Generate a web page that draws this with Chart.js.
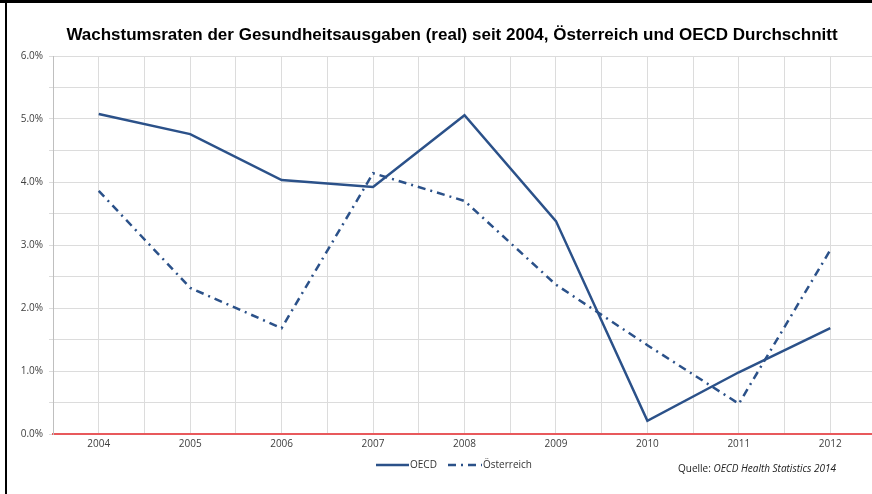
<!DOCTYPE html>
<html>
<head>
<meta charset="utf-8">
<script src="https://cdn.jsdelivr.net/npm/chart.js@4"></script>
<style>
  html, body { margin: 0; padding: 0; background: #fff; overflow: hidden; }
  #wrap { position: relative; width: 872px; height: 494px; overflow: hidden; }
  #chart { position: absolute; left: 0; top: 0; }
  #top { position: absolute; left: 0; top: 0; width: 872px; height: 3px; background: #000; }
  #left { position: absolute; left: 5px; top: 0; width: 2px; height: 494px; background: #000; }
  #title { position: absolute; left: 0; top: 25px; width: 904px; text-align: center;
           font: bold 17px "Liberation Sans", Arial, sans-serif; color: #000; }
  #quelle { position: absolute; left: 678px; top: 461px;
            font: 10px "Open Sans", sans-serif; color: #222; }
</style>
</head>
<body>
<div id="wrap">
  <canvas id="chart" width="880" height="494"></canvas>
  <div id="top"></div>
  <div id="left"></div>
  <div id="title">Wachstumsraten der Gesundheitsausgaben (real) seit 2004, Österreich und OECD Durchschnitt</div>
  <div id="quelle">Quelle: <i>OECD Health Statistics 2014</i></div>
</div>
<script>
const jahre = [2004, 2005, 2006, 2007, 2008, 2009, 2010, 2011, 2012];
const oecd = [5.08, 4.76, 4.03, 3.92, 5.06, 3.38, 0.21, 0.98, 1.68];
const oesterreich = [3.86, 2.32, 1.68, 4.14, 3.70, 2.37, 1.41, 0.48, 2.92];

const blau = '#2b5189';
const tickFont = { family: 'Open Sans', size: 10 };

// Legende unter der Grafik, mit den Linienstilen der Datenreihen
const legende = {
  id: 'legende',
  afterDraw(chart) {
    const ctx = chart.ctx;
    const pos = [[376, 409], [448, 482]];
    chart.data.datasets.forEach((ds, i) => {
      const [x0, x1] = pos[i];
      ctx.save();
      ctx.strokeStyle = ds.borderColor;
      ctx.lineWidth = ds.borderWidth;
      ctx.setLineDash(ds.borderDash || []);
      ctx.beginPath();
      ctx.moveTo(x0, 465);
      ctx.lineTo(x1, 465);
      ctx.stroke();
      ctx.setLineDash([]);
      ctx.fillStyle = '#333';
      ctx.font = '10px "Open Sans"';
      ctx.textBaseline = 'middle';
      ctx.fillText(ds.label, x1 + 1, 465);
      ctx.restore();
    });
  }
};

new Chart(document.getElementById('chart'), {
  type: 'line',
  data: {
    datasets: [{
      label: 'OECD',
      data: jahre.map((j, i) => ({ x: j, y: oecd[i] })),
      borderColor: blau,
      borderWidth: 2.5,
      pointRadius: 0,
      tension: 0
    }, {
      label: 'Österreich',
      data: jahre.map((j, i) => ({ x: j, y: oesterreich[i] })),
      borderColor: blau,
      borderWidth: 2.5,
      borderDash: [8, 5, 2, 5],
      pointRadius: 0,
      tension: 0
    }]
  },
  options: {
    responsive: false,
    animation: false,
    layout: { padding: { left: 0, top: 56, right: 3, bottom: 0 } },
    plugins: {
      legend: { display: false },
      title: { display: false },
      tooltip: { enabled: false }
    },
    scales: {
      x: {
        type: 'linear',
        min: 2003.5,
        max: 2012.5,
        afterFit: s => { s.height = 60; },
        afterBuildTicks: s => {
          const t = [];
          for (let v = 2003.5; v <= 2012.5001; v += 0.5) t.push({ value: v });
          s.ticks = t;
        },
        ticks: {
          autoSkip: false,
          maxRotation: 0,
          padding: 4,
          color: '#404040',
          font: tickFont,
          callback: v => Number.isInteger(v) ? String(v) : ''
        },
        grid: { color: '#dcdcdc', lineWidth: 1, tickLength: 0 },
        border: { color: '#e8595c', width: 2 }
      },
      y: {
        min: 0,
        max: 6,
        afterFit: s => { s.width = 53; },
        afterBuildTicks: s => {
          const t = [];
          for (let v = 0; v <= 6.0001; v += 0.5) t.push({ value: v });
          s.ticks = t;
        },
        ticks: {
          padding: 6,
          color: '#404040',
          font: tickFont,
          callback: v => Number.isInteger(v) ? v.toFixed(1) + '%' : ''
        },
        grid: { color: '#dcdcdc', lineWidth: 1, tickLength: 4 },
        border: { color: '#bfbfbf', width: 1 }
      }
    }
  },
  plugins: [legende]
});
</script>
</body>
</html>
